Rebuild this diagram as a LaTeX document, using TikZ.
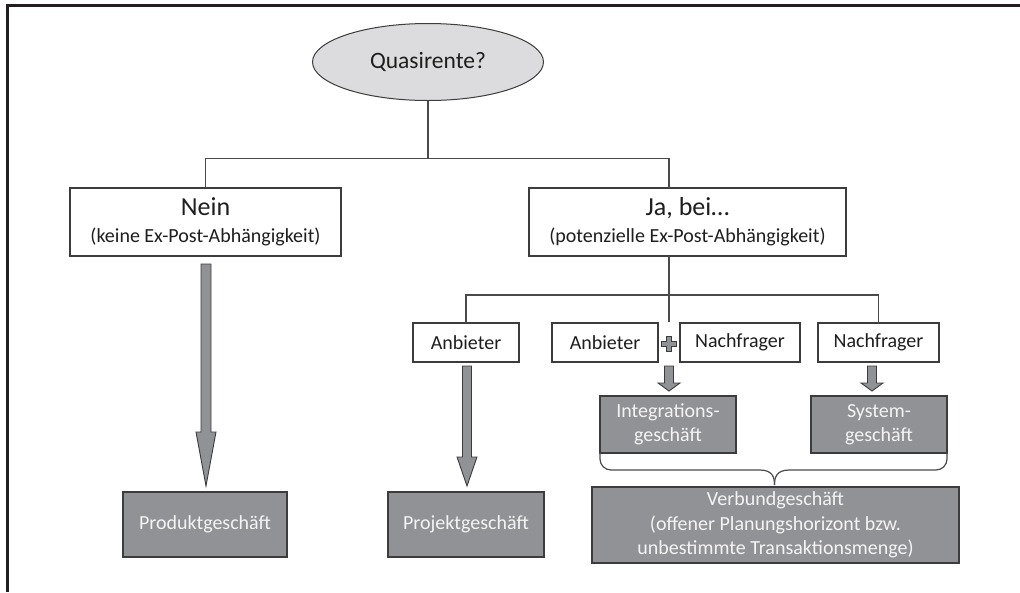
\documentclass[tikz,border=0pt]{standalone}
\usepackage{fontspec}
\setmainfont{Carlito}
\usetikzlibrary{shapes.geometric,calc}
\definecolor{framec}{HTML}{231F20}
\definecolor{linec}{HTML}{4A4A4A}
\definecolor{bordc}{HTML}{3C3C3C}
\definecolor{darkfill}{HTML}{919296}
\definecolor{ellfill}{HTML}{DCDCDE}
\definecolor{txtc}{HTML}{1E1E1E}
\definecolor{ltxt}{HTML}{F4F4F4}

% fat block arrow pointing down: x, top, head start, tip, shaft half-width, head half-width
\newcommand{\fatdown}[6]{%
  \draw[fatarrow] (#1-#5,#2) -- (#1+#5,#2) -- (#1+#5,#3) -- (#1+#6,#3) -- (#1,#4)
    -- (#1-#6,#3) -- (#1-#5,#3) -- cycle;}

\begin{document}
\begin{tikzpicture}[x=1pt,y=-1pt,
  every node/.style={inner sep=0pt, outer sep=0pt},
  wbox/.style={draw=bordc, fill=white, line width=1.1pt, text=txtc, align=center,
    font=\fontsize{20}{24}\selectfont},
  gbox/.style={draw=bordc, fill=darkfill, line width=1.1pt, text=ltxt, align=center,
    font=\fontsize{20}{24}\selectfont},
  link/.style={draw=linec, line width=1.2pt},
  fatarrow/.style={draw=bordc, fill=darkfill, line width=0.9pt, line join=miter}]

\useasboundingbox (0,0) rectangle (1020,592);

% outer frame (top and left edges)
\draw[framec, line width=3pt] (7.5,592) -- (7.5,5.5) -- (1020,5.5);

% question
\node[ellipse, draw=bordc, fill=ellfill, line width=1pt, minimum width=231pt,
  minimum height=77pt, text=txtc, font=\fontsize{23.5}{26}\selectfont] (q) at (428,62) {Quasirente?};

% first level
\node[wbox, minimum width=271pt, minimum height=68pt] (nein) at (205.5,222)
  {{\fontsize{26}{26}\selectfont Nein}\\[3pt](keine Ex-Post-Abhängigkeit)};
\node[wbox, minimum width=317pt, minimum height=68pt] (ja) at (687.5,222)
  {{\fontsize{26}{26}\selectfont Ja, bei…}\\[3pt](potenzielle Ex-Post-Abhängigkeit)};

% second level
\node[wbox, minimum width=106pt, minimum height=39pt] (anb1) at (466,342.5) {Anbieter};
\node[wbox, minimum width=106pt, minimum height=39pt] (anb2) at (605,342.5) {Anbieter};
\node[wbox, minimum width=120pt, minimum height=39pt] (nach1) at (740,342.5) {Nachfrager};
\node[wbox, minimum width=121pt, minimum height=39pt] (nach2) at (878.5,342.5) {Nachfrager};
\coordinate (plus) at (669,344);

% results
\node[gbox, minimum width=164pt, minimum height=65pt] (prod) at (205,524.5) {Produktgeschäft};
\node[gbox, minimum width=156pt, minimum height=65pt] (proj) at (466,524.5) {Projektgeschäft};
\node[gbox, minimum width=136pt, minimum height=57pt] (integ) at (668,424.5) {Integrations-\\geschäft};
\node[gbox, minimum width=136pt, minimum height=57pt] (sys) at (879,424.5) {System-\\geschäft};
\node[gbox, minimum width=367pt, minimum height=76pt, font=\fontsize{20}{24.5}\selectfont] (verb) at (775.5,525)
  {Verbundgeschäft\\(offener Planungshorizont bzw.\\unbestimmte Transaktionsmenge)};

% tree connectors
\draw[link] (q.south) -- ++(0,58) coordinate (s1);
\draw[link] (s1) -| (nein.north);
\draw[link] (s1) -| (ja.north -| plus);
\draw[link] (ja.south -| plus) -- ++(0,39) coordinate (s2);
\draw[link] (s2) -- ($(plus)+(0,-22)$);
\draw[link] (s2) -| (anb1.north);
\draw[link] (s2) -| (nach2.north);

% plus sign between the two parties
\draw[fatarrow, line width=0.8pt] ($(plus)+(-2.5,-7.5)$) -- ++(5,0) -- ++(0,5) -- ++(5,0) -- ++(0,5)
  -- ++(-5,0) -- ++(0,5) -- ++(-5,0) -- ++(0,-5) -- ++(-5,0) -- ++(0,-5) -- ++(5,0) -- cycle;

% block arrows
\fatdown{206}{264}{432}{486}{5}{10}
\fatdown{467}{366}{457}{486}{4.5}{10}
\fatdown{669}{366}{383}{391}{4.5}{11}
\fatdown{872}{366}{383}{391}{4.5}{11}

% brace joining the two hybrid types
\draw[link] (integ.south west) -- ++(0,6) arc[start angle=180, end angle=90, x radius=11pt, y radius=-11pt]
  -- ($(verb.north)+(-16,-17)$) .. controls ($(verb.north)+(-3,-17)$) and ($(verb.north)+(-1,-10)$) .. ($(verb.north)+(-1,-2)$);
\draw[link] (sys.south east) -- ++(0,6) arc[start angle=0, end angle=90, x radius=11pt, y radius=-11pt]
  -- ($(verb.north)+(14,-17)$) .. controls ($(verb.north)+(1,-17)$) and ($(verb.north)+(-1,-10)$) .. ($(verb.north)+(-1,-2)$);

\end{tikzpicture}
\end{document}
